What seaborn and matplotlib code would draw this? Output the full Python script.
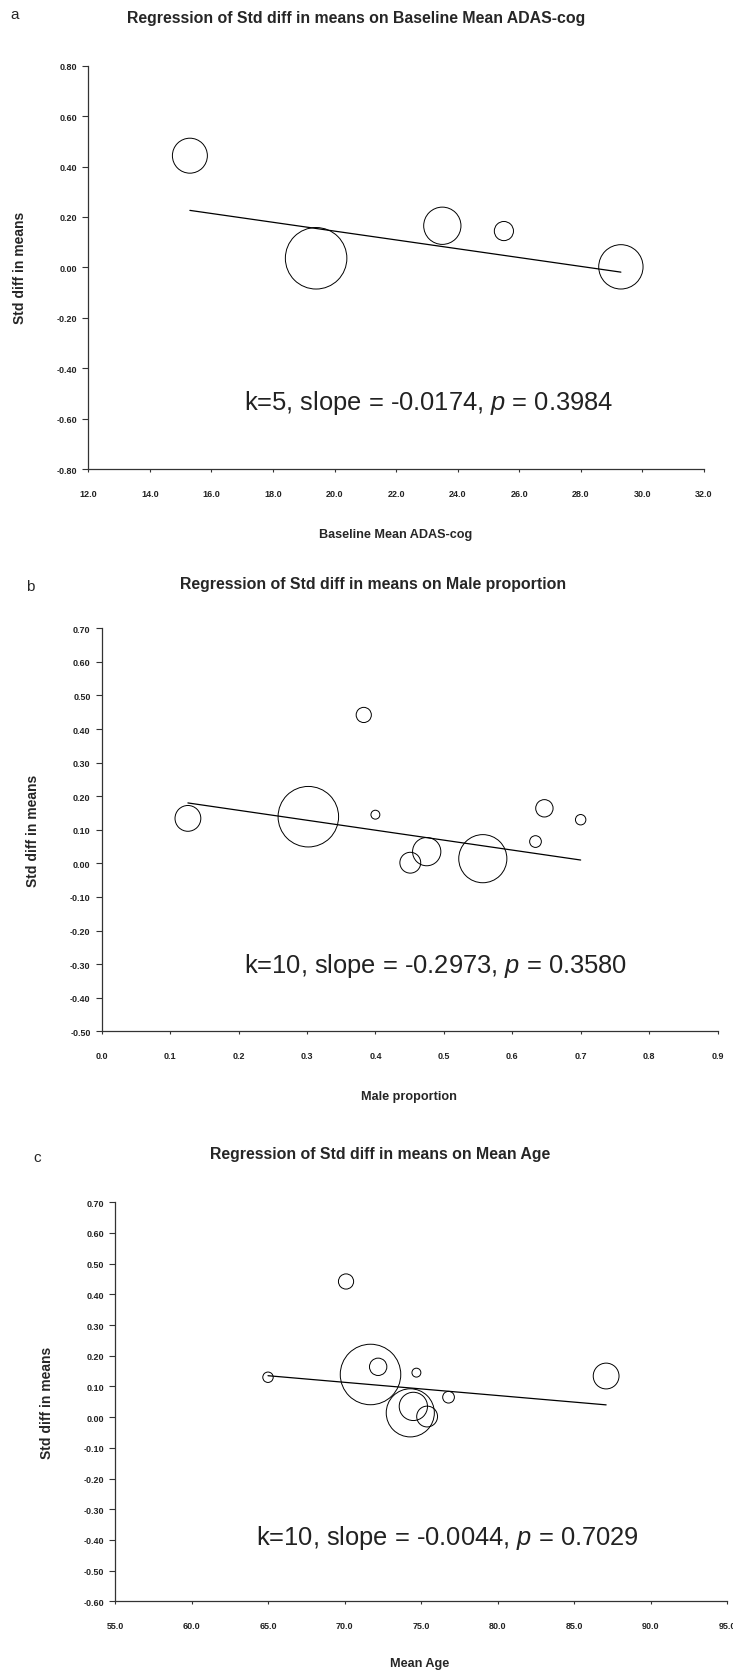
import numpy as np
import pandas as pd
import seaborn as sns
import matplotlib.pyplot as plt
from matplotlib.ticker import FormatStrFormatter, MultipleLocator

# panel a: baseline ADAS-cog (5 studies)
adas_x = [15.3, 19.4, 23.5, 25.5, 29.3]
adas_y = [0.443, 0.036, 0.165, 0.144, 0.002]
adas_w = [14.0, 43.3, 15.9, 4.2, 22.5]
adas_fit_x = [15.3, 29.3]
adas_fit_y = [0.226, -0.019]

# panels b and c: the same 10 studies
smd = [0.442, 0.139, 0.145, 0.002, 0.035, 0.014, 0.065, 0.164, 0.130, 0.134]
study_w = [2.64, 41.9, 0.91, 4.97, 9.15, 26.5, 1.57, 3.45, 1.24, 7.62]

male_prop = [0.383, 0.302, 0.400, 0.451, 0.475, 0.557, 0.634, 0.647, 0.700, 0.126]
male_fit_x = [0.126, 0.700]
male_fit_y = [0.180, 0.010]

mean_age = [70.1, 71.7, 74.7, 75.4, 74.5, 74.3, 76.8, 72.2, 65.0, 87.1]
age_fit_x = [65.0, 87.1]
age_fit_y = [0.135, 0.040]

sns.set_style('ticks')
plt.rcParams['font.family'] = ['Liberation Sans', 'DejaVu Sans']
plt.rcParams['axes.unicode_minus'] = False
plt.rcParams['mathtext.fontset'] = 'custom'
plt.rcParams['mathtext.rm'] = 'Liberation Sans'
plt.rcParams['mathtext.it'] = 'Liberation Sans:italic'

W, H = 733, 1674
fig = plt.figure(figsize=(W / 100, H / 100), dpi=100)


def px_text(x, y, s, **kw):
    fig.text(x / W, 1 - y / H, s, **kw)


def draw_panel(box, x, y, w, fit_x, fit_y, xlim, xstep, xfmt, ylim, ystep, ann, ann_xy):
    left, top, right, bottom = box
    ax = fig.add_axes([left / W, 1 - bottom / H, (right - left) / W, (bottom - top) / H])
    df = pd.DataFrame({'x': x, 'y': y, 'w': w})
    sns.scatterplot(data=df, x='x', y='y', size='w', sizes=(0, 2265), size_norm=(0, 50),
                    facecolor='none', edgecolor='black', linewidth=0.7, legend=False, ax=ax,
                    zorder=3)
    sns.lineplot(x=fit_x, y=fit_y, color='black', lw=0.9, ax=ax)
    ax.set_xlim(*xlim)
    ax.set_ylim(*ylim)
    ax.xaxis.set_major_locator(MultipleLocator(xstep))
    ax.yaxis.set_major_locator(MultipleLocator(ystep))
    ax.xaxis.set_major_formatter(FormatStrFormatter(xfmt))
    ax.yaxis.set_major_formatter(FormatStrFormatter('%.2f'))
    ax.set_xlabel('')
    ax.set_ylabel('')
    sns.despine(ax=ax)
    for sp in ['left', 'bottom']:
        ax.spines[sp].set_linewidth(0.9)
        ax.spines[sp].set_color('#333333')
    ax.tick_params(axis='y', length=4, width=0.8, pad=4, labelsize=6.5, color='#333333')
    ax.tick_params(axis='x', length=2.4, width=0.8, pad=12, labelsize=6.5, color='#333333')
    for lab in ax.get_xticklabels() + ax.get_yticklabels():
        lab.set_fontweight('bold')
        lab.set_color('#222222')
    px_text(ann_xy[0], ann_xy[1], ann, fontsize=18.4, ha='left', va='center', color='#222222')
    return ax


# panel a
draw_panel((88.3, 66.7, 704, 470), adas_x, adas_y, adas_w, adas_fit_x, adas_fit_y,
           (12, 32), 2, '%.1f', (-0.8, 0.8), 0.2,
           'k=5, slope = -0.0174, $p$ = 0.3984', (244, 403))
px_text(15, 15, 'a', fontsize=11, ha='center', va='center')
px_text(356, 18, 'Regression of Std diff in means on Baseline Mean ADAS-cog',
        fontsize=11.4, fontweight='bold', ha='center', va='center')
px_text(396, 535, 'Baseline Mean ADAS-cog', fontsize=9.1, fontweight='bold', ha='center', va='center')
px_text(20, 268, 'Std diff in means', fontsize=10, fontweight='bold', rotation=90,
        ha='center', va='center')

# panel b
draw_panel((101.7, 629.3, 717.5, 1032.3), male_prop, smd, study_w, male_fit_x, male_fit_y,
           (0, 0.9), 0.1, '%.1f', (-0.5, 0.7), 0.1,
           'k=10, slope = -0.2973, $p$ = 0.3580', (244, 966))
px_text(30, 587, 'b', fontsize=11, ha='center', va='center')
px_text(373, 584, 'Regression of Std diff in means on Male proportion',
        fontsize=11.4, fontweight='bold', ha='center', va='center')
px_text(409, 1097, 'Male proportion', fontsize=9.1, fontweight='bold', ha='center', va='center')
px_text(33, 831, 'Std diff in means', fontsize=10, fontweight='bold', rotation=90,
        ha='center', va='center')

# panel c
draw_panel((115, 1203.3, 727, 1602.3), mean_age, smd, study_w, age_fit_x, age_fit_y,
           (55, 95), 5, '%.1f', (-0.6, 0.7), 0.1,
           'k=10, slope = -0.0044, $p$ = 0.7029', (256, 1538))
px_text(37, 1158, 'c', fontsize=11, ha='center', va='center')
px_text(380, 1155, 'Regression of Std diff in means on Mean Age',
        fontsize=11.4, fontweight='bold', ha='center', va='center')
px_text(420, 1664, 'Mean Age', fontsize=9.1, fontweight='bold', ha='center', va='center')
px_text(47, 1403, 'Std diff in means', fontsize=10, fontweight='bold', rotation=90,
        ha='center', va='center')

fig.savefig('out.png', dpi=100)
